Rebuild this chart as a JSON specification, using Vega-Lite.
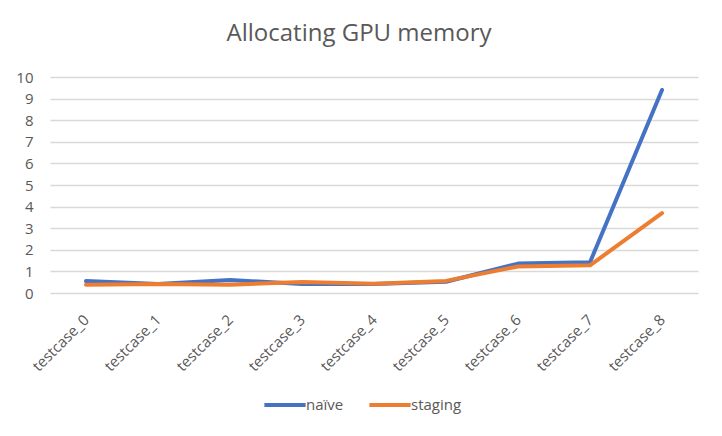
{
  "$schema": "https://vega.github.io/schema/vega-lite/v6.json",
  "width": 648,
  "height": 216,
  "autosize": {"type": "none"},
  "padding": {"left": 50, "top": 77, "right": 24, "bottom": 143},
  "background": "white",
  "title": {
    "text": "Allocating GPU memory",
    "fontSize": 24,
    "font": "Open Sans",
    "fontWeight": "normal",
    "color": "#595959",
    "offset": 24,
    "dx": -15
  },
  "data": {
    "values": [
      {"testcase": "testcase_0", "series": "naïve", "value": 0.55},
      {"testcase": "testcase_1", "series": "naïve", "value": 0.42},
      {"testcase": "testcase_2", "series": "naïve", "value": 0.6},
      {"testcase": "testcase_3", "series": "naïve", "value": 0.42},
      {"testcase": "testcase_4", "series": "naïve", "value": 0.42},
      {"testcase": "testcase_5", "series": "naïve", "value": 0.52},
      {"testcase": "testcase_6", "series": "naïve", "value": 1.36},
      {"testcase": "testcase_7", "series": "naïve", "value": 1.42},
      {"testcase": "testcase_8", "series": "naïve", "value": 9.4},
      {"testcase": "testcase_0", "series": "staging", "value": 0.38},
      {"testcase": "testcase_1", "series": "staging", "value": 0.42},
      {"testcase": "testcase_2", "series": "staging", "value": 0.38},
      {"testcase": "testcase_3", "series": "staging", "value": 0.51},
      {"testcase": "testcase_4", "series": "staging", "value": 0.43},
      {"testcase": "testcase_5", "series": "staging", "value": 0.56},
      {"testcase": "testcase_6", "series": "staging", "value": 1.23},
      {"testcase": "testcase_7", "series": "staging", "value": 1.28},
      {"testcase": "testcase_8", "series": "staging", "value": 3.7}
    ]
  },
  "mark": {"type": "line", "strokeWidth": 4, "strokeCap": "round", "strokeJoin": "round"},
  "encoding": {
    "x": {
      "field": "testcase",
      "type": "nominal",
      "scale": {"type": "point", "padding": 0.5},
      "axis": {
        "title": null,
        "labelAngle": -45,
        "labelAlign": "right",
        "labelBaseline": "middle",
        "labelPadding": 24,
        "ticks": false,
        "domain": false,
        "grid": false
      }
    },
    "y": {
      "field": "value",
      "type": "quantitative",
      "scale": {"domain": [0, 10], "nice": false},
      "axis": {
        "title": null,
        "values": [0, 1, 2, 3, 4, 5, 6, 7, 8, 9, 10],
        "ticks": false,
        "domain": false,
        "labelPadding": 17,
        "gridColor": "#D9D9D9",
        "gridWidth": 1.3
      }
    },
    "color": {
      "field": "series",
      "type": "nominal",
      "scale": {"domain": ["naïve", "staging"], "range": ["#4472C4", "#ED7D31"]},
      "legend": {
        "title": null,
        "orient": "none",
        "legendX": 212,
        "legendY": 305,
        "direction": "horizontal",
        "symbolType": "stroke",
        "symbolStrokeWidth": 4,
        "symbolSize": 1700,
        "labelOffset": -2,
        "columnPadding": 17
      }
    }
  },
  "config": {
    "font": "Open Sans",
    "view": {"stroke": null},
    "axis": {"labelColor": "#595959", "labelFontSize": 15},
    "legend": {"labelColor": "#595959", "labelFontSize": 15}
  }
}
